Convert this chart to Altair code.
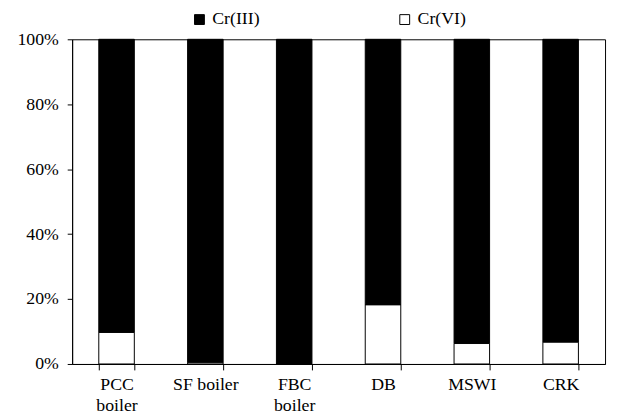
import altair as alt
import pandas as pd

categories = ["PCC boiler", "SF boiler", "FBC boiler", "DB", "MSWI", "CRK"]
cr6 = [9.7, 0.4, 0.0, 18.2, 6.3, 6.7]
cr3 = [90.3, 99.6, 100.0, 81.8, 93.7, 93.3]
series = ["Cr(III)", "Cr(VI)"]
colors = ["#000000", "#ffffff"]
y_ticks = [0, 0.2, 0.4, 0.6, 0.8, 1.0]

rows = []
for c, a, b in zip(categories, cr3, cr6):
    rows.append({"cat": c, "series": "Cr(III)", "value": a / 100, "ord": 2})
    rows.append({"cat": c, "series": "Cr(VI)", "value": b / 100, "ord": 1})
df = pd.DataFrame(rows)

font = "Liberation Serif"

chart = alt.Chart(df).mark_bar(stroke="black", strokeWidth=1).encode(
    x=alt.X(
        "cat:N", sort=categories, title=None,
        scale=alt.Scale(paddingInner=0.6, paddingOuter=0.3),
        axis=alt.Axis(
            labelAngle=0, tickBand="extent", tickSize=6, labelPadding=6,
            labelFont=font, labelFontSize=18, labelLineHeight=21,
            labelExpr="indexof(['PCC boiler','FBC boiler'], datum.value) >= 0 ? split(datum.value, ' ') : datum.value",
        ),
    ),
    y=alt.Y(
        "value:Q", stack="zero", title=None,
        scale=alt.Scale(domain=[0, 1], nice=False),
        axis=alt.Axis(values=y_ticks, format=".0%", tickSize=5, labelPadding=9,
                      labelFont=font, labelFontSize=18),
    ),
    color=alt.Color(
        "series:N",
        scale=alt.Scale(domain=series, range=colors),
        legend=alt.Legend(
            orient="none", legendX=120, legendY=-29, direction="horizontal",
            title=None, symbolType="square", symbolSize=100,
            symbolStrokeColor="black", symbolStrokeWidth=1,
            labelFont=font, labelFontSize=18, labelColor="black",
            columnPadding=138, padding=0, labelOffset=4,
        ),
    ),
    order=alt.Order("ord:Q", sort="ascending"),
).properties(
    width=540, height=329,
    autosize=alt.AutoSizeParams(type="none"),
    padding={"left": 65, "top": 29, "right": 4, "bottom": 50},
).configure_view(
    stroke="black", strokeWidth=1
).configure_axis(
    grid=False, domainColor="black", tickColor="black", labelColor="black", domainWidth=1,
)

chart.save("out.html", embed_options={"renderer": "svg", "actions": False})
